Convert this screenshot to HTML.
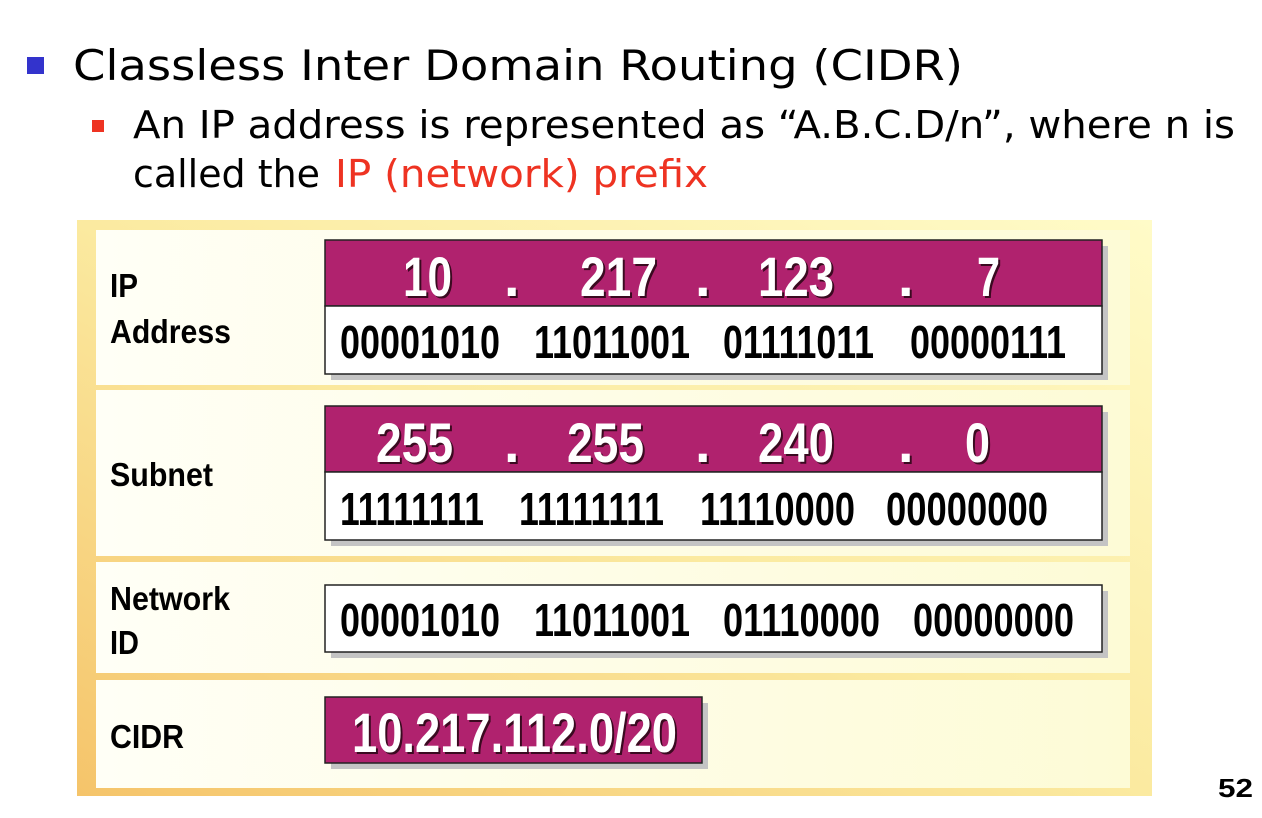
<!DOCTYPE html>
<html><head><meta charset="utf-8"><style>html,body{margin:0;padding:0;background:#fff}svg{display:block}</style></head>
<body>
<svg width="1262" height="818" xmlns="http://www.w3.org/2000/svg">
<defs>
<linearGradient id="og" x1="1" y1="0" x2="0" y2="1">
<stop offset="0" stop-color="#fffbc8"/><stop offset="0.5" stop-color="#fbeaa0"/><stop offset="1" stop-color="#f5c46a"/></linearGradient>
<linearGradient id="ig" x1="0" y1="0" x2="1" y2="0">
<stop offset="0" stop-color="#fffff6"/><stop offset="1" stop-color="#fdfbd6"/></linearGradient>
</defs>
<rect x="77" y="220" width="1075" height="576" fill="url(#og)"/>
<rect x="96" y="230" width="1034" height="155" fill="url(#ig)"/>
<rect x="96" y="390" width="1034" height="166" fill="url(#ig)"/>
<rect x="96" y="562" width="1034" height="111" fill="url(#ig)"/>
<rect x="96" y="680" width="1034" height="108" fill="url(#ig)"/>

<g font-family="'DejaVu Sans','Liberation Sans',sans-serif">
<rect x="27" y="57" width="17" height="17" fill="#3333cc"/>
<text x="73" y="80" font-size="42" textLength="890" lengthAdjust="spacingAndGlyphs" fill="#000">Classless Inter Domain Routing (CIDR)</text>
<rect x="92" y="120" width="12" height="12" fill="#ee3322"/>
<text x="133" y="138" font-size="38" textLength="1102" lengthAdjust="spacingAndGlyphs" fill="#000">An IP address is represented as “A.B.C.D/n”, where n is</text>
<text x="133" y="187" font-size="38" fill="#000" textLength="187" lengthAdjust="spacingAndGlyphs">called the</text>
<text x="335" y="187" font-size="38" fill="#ee3322" textLength="373" lengthAdjust="spacingAndGlyphs">IP (network) prefix</text>
</g>

<g font-family="'Liberation Sans',sans-serif" font-weight="bold" fill="#000" font-size="33">
<text x="110" y="297" textLength="28" lengthAdjust="spacingAndGlyphs">IP</text>
<text x="110" y="343" textLength="121" lengthAdjust="spacingAndGlyphs">Address</text>
<text x="110" y="486" textLength="103" lengthAdjust="spacingAndGlyphs">Subnet</text>
<text x="110" y="610" textLength="120" lengthAdjust="spacingAndGlyphs">Network</text>
<text x="110" y="654" textLength="29" lengthAdjust="spacingAndGlyphs">ID</text>
<text x="110" y="748" textLength="74" lengthAdjust="spacingAndGlyphs">CIDR</text>
</g>

<g fill="#c4c4c4">
<rect x="331" y="246" width="777" height="134"/>
<rect x="331" y="412" width="777" height="134"/>
<rect x="331" y="591" width="777" height="67"/>
<rect x="331" y="703" width="377" height="66"/>
</g>
<g stroke="#222" stroke-width="1.5">
<rect x="325" y="240" width="777" height="66" fill="#b0226e"/>
<rect x="325" y="306" width="777" height="68" fill="#fff"/>
<rect x="325" y="406" width="777" height="66" fill="#b0226e"/>
<rect x="325" y="472" width="777" height="68" fill="#fff"/>
<rect x="325" y="585" width="777" height="67" fill="#fff"/>
<rect x="325" y="697" width="377" height="66" fill="#b0226e"/>
</g>

<g font-family="'Liberation Sans',sans-serif" font-weight="bold" font-size="46" fill="#000">
<text x="340" y="358" textLength="160" lengthAdjust="spacingAndGlyphs">00001010</text>
<text x="534" y="358" textLength="156" lengthAdjust="spacingAndGlyphs">11011001</text>
<text x="723" y="358" textLength="151" lengthAdjust="spacingAndGlyphs">01111011</text>
<text x="910" y="358" textLength="156" lengthAdjust="spacingAndGlyphs">00000111</text>
<text x="340" y="525" textLength="144" lengthAdjust="spacingAndGlyphs">11111111</text>
<text x="519" y="525" textLength="145" lengthAdjust="spacingAndGlyphs">11111111</text>
<text x="700" y="525" textLength="155" lengthAdjust="spacingAndGlyphs">11110000</text>
<text x="886" y="525" textLength="162" lengthAdjust="spacingAndGlyphs">00000000</text>
<text x="340" y="636" textLength="160" lengthAdjust="spacingAndGlyphs">00001010</text>
<text x="534" y="636" textLength="156" lengthAdjust="spacingAndGlyphs">11011001</text>
<text x="723" y="636" textLength="157" lengthAdjust="spacingAndGlyphs">01110000</text>
<text x="913" y="636" textLength="161" lengthAdjust="spacingAndGlyphs">00000000</text>
</g>

<g font-family="'Liberation Sans',sans-serif" font-weight="bold" font-size="56">
<g fill="#3a0a20" transform="translate(2,2)">
<text x="403" y="296" textLength="49" lengthAdjust="spacingAndGlyphs">10</text>
<text x="504" y="296">.</text>
<text x="580" y="296" textLength="77" lengthAdjust="spacingAndGlyphs">217</text>
<text x="695" y="296">.</text>
<text x="758" y="296" textLength="76" lengthAdjust="spacingAndGlyphs">123</text>
<text x="898" y="296">.</text>
<text x="977" y="296" textLength="23" lengthAdjust="spacingAndGlyphs">7</text>
<text x="376" y="462" textLength="77" lengthAdjust="spacingAndGlyphs">255</text>
<text x="504" y="462">.</text>
<text x="567" y="462" textLength="77" lengthAdjust="spacingAndGlyphs">255</text>
<text x="695" y="462">.</text>
<text x="758" y="462" textLength="76" lengthAdjust="spacingAndGlyphs">240</text>
<text x="898" y="462">.</text>
<text x="965" y="462" textLength="25" lengthAdjust="spacingAndGlyphs">0</text>
<text x="352" y="752" textLength="325" lengthAdjust="spacingAndGlyphs">10.217.112.0/20</text>
</g>
<g fill="#fff">
<text x="403" y="296" textLength="49" lengthAdjust="spacingAndGlyphs">10</text>
<text x="504" y="296">.</text>
<text x="580" y="296" textLength="77" lengthAdjust="spacingAndGlyphs">217</text>
<text x="695" y="296">.</text>
<text x="758" y="296" textLength="76" lengthAdjust="spacingAndGlyphs">123</text>
<text x="898" y="296">.</text>
<text x="977" y="296" textLength="23" lengthAdjust="spacingAndGlyphs">7</text>
<text x="376" y="462" textLength="77" lengthAdjust="spacingAndGlyphs">255</text>
<text x="504" y="462">.</text>
<text x="567" y="462" textLength="77" lengthAdjust="spacingAndGlyphs">255</text>
<text x="695" y="462">.</text>
<text x="758" y="462" textLength="76" lengthAdjust="spacingAndGlyphs">240</text>
<text x="898" y="462">.</text>
<text x="965" y="462" textLength="25" lengthAdjust="spacingAndGlyphs">0</text>
<text x="352" y="752" textLength="325" lengthAdjust="spacingAndGlyphs">10.217.112.0/20</text>
</g>
</g>

<text x="1218" y="797" font-family="'Liberation Sans',sans-serif" font-weight="bold" font-size="26" textLength="35" lengthAdjust="spacingAndGlyphs">52</text>
</svg>
</body></html>
